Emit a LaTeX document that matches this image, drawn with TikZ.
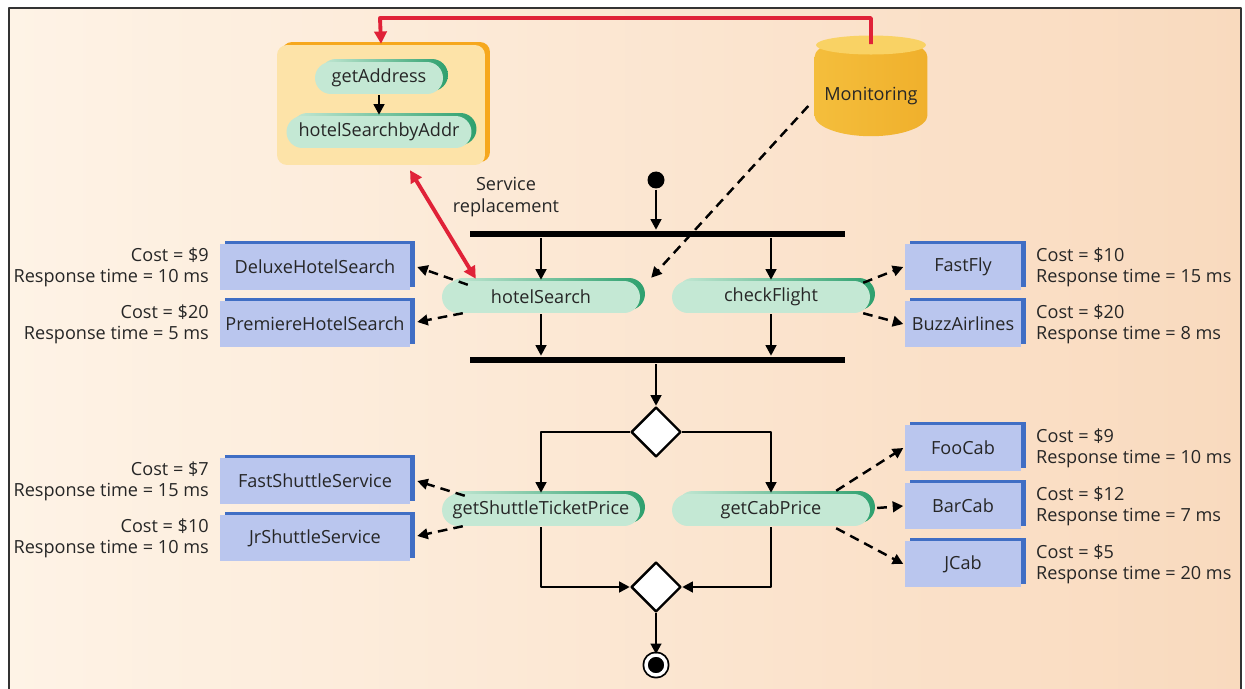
\documentclass[tikz,border=0pt]{standalone}
\usepackage{fontspec}
\setmainfont{Open Sans}
\usetikzlibrary{positioning}
\usetikzlibrary{arrows.meta,calc,shapes.geometric,shadows}
\definecolor{bgL}{RGB}{254,243,230}
\definecolor{bgR}{RGB}{249,218,190}
\definecolor{actfill}{RGB}{196,232,212}
\definecolor{actdark}{RGB}{46,160,110}
\definecolor{svcfill}{RGB}{186,198,238}
\definecolor{svcdark}{RGB}{64,110,196}
\definecolor{grpfill}{RGB}{253,227,168}
\definecolor{grpdark}{RGB}{246,168,30}
\definecolor{monL}{RGB}{244,190,60}
\definecolor{monM}{RGB}{252,226,140}
\definecolor{monR}{RGB}{240,176,44}
\definecolor{montop}{RGB}{249,210,100}
\definecolor{repl}{RGB}{224,34,56}
\tikzstyle{every node}=[font=\fontsize{10.3}{12}\selectfont,text=black!85]
\tikzstyle{every path}=[line width=1.4pt,line join=round]
\tikzstyle{act}=[rectangle,rounded corners=0.32cm,fill=actfill,minimum height=0.64cm,inner sep=0pt,
  general shadow={shadow xshift=0.1cm,shadow yshift=0.06cm,left color=actfill,right color=actdark}]
\tikzstyle{svc}=[rectangle,fill=svcfill,minimum height=0.92cm,inner sep=0pt,
  general shadow={fill=svcdark,shadow xshift=0.1cm,shadow yshift=0.06cm}]
\tikzstyle{bar}=[rectangle,fill=black,minimum width=7.5cm,minimum height=0.12cm,inner sep=0pt]
\tikzstyle{dec}=[diamond,draw,fill=white,minimum width=1cm,minimum height=1cm,inner sep=0pt]
\tikzstyle{flow}=[-{Triangle[length=6pt,width=6pt]}]
\tikzstyle{call}=[flow,dash pattern=on 5.5pt off 3.5pt]
\tikzstyle{swap}=[repl,line width=2.2pt]
\tikzstyle{lbl}=[inner sep=0pt]

\begin{document}
\begin{tikzpicture}[x=0.02cm,y=-0.02cm]
  \useasboundingbox (0,0) rectangle (1245,689);
  \shade[left color=bgL,right color=bgR] (9,8) rectangle (1241,700);
  \draw[black!80,line width=1.2pt] (9,700)--(9,8)--(1241,8)--(1241,700);

  % replacement composition
  \node[rectangle,rounded corners=0.2cm,fill=grpfill,minimum width=4.16cm,minimum height=2.4cm,
    general shadow={fill=grpdark,shadow xshift=0.1cm,shadow yshift=0.06cm}] (grp) at (381,105) {};
  \node[act,minimum width=2.56cm] (ga) at (379,78) {getAddress};
  \node[act,minimum width=3.7cm] (hsa) at (379,132) {hotelSearchbyAddr};
  \draw[flow] (ga) -- (hsa);

  % monitoring
  \node[cylinder,shape border rotate=90,aspect=0.4,minimum width=2.26cm,minimum height=2cm,
    left color=monL,middle color=monM,right color=monR] (mon) at (871,102) {\raisebox{9pt}{Monitoring}};
  \fill[montop] ($(mon.north)+(0,10)$) ellipse [x radius=1.1cm,y radius=0.19cm];
  \coordinate (rt) at (380,18);
  \draw[swap,-{Triangle[length=7pt,width=7pt]}] ($(mon.north)+(0,9)$) |- (rt) -- (grp.north);

  % workflow
  \node[circle,fill=black,minimum size=0.34cm,inner sep=0pt] (start) at (656,180) {};
  \node[bar] (fork) at (657.5,234) {};
  \draw[flow] (start) -- (start |- fork.north);
  \node[act,minimum width=3.96cm] (hs) at (541,297) {hotelSearch};
  \node[act,minimum width=3.96cm] (cf) at (771,297) {checkFlight};
  \draw[flow] (hs |- fork.south) -- (hs);
  \draw[flow] (cf |- fork.south) -- (cf);
  \node[bar] (join) at (657.5,360) {};
  \draw[flow] (hs) -- (hs |- join.north);
  \draw[flow] (cf) -- (cf |- join.north);
  \draw[call] ($(mon.west)+(-5,4)$) -- ($(hs.north east)+(10,-2)$);
  \draw[swap,{Triangle[length=7pt,width=7pt]}-{Triangle[length=7pt,width=7pt]}]
    ($(grp.south)+(29,4)$) -- ($(hs.north west)+(35,-1)$);
  \node[align=center] (srv) at (506,197) {Service\\replacement};

  \node[dec] (br) at (656,432) {};
  \draw[flow] (br |- join.south) -- (br.north);
  \node[act,minimum width=3.96cm] (gs) at (541,510) {getShuttleTicketPrice};
  \node[act,minimum width=3.96cm] (gc) at (771,510) {getCabPrice};
  \draw[flow] (br.west) -| (gs.north);
  \draw[flow] (br.east) -| (gc.north);
  \node[dec] (mg) at (656,587) {};
  \draw[flow] (gs.south) |- (mg.west);
  \draw[flow] (gc.south) |- (mg.east);
  \node[circle,draw=black,fill=black,double=white,double distance=2pt,line width=1pt,
    minimum size=0.4cm,inner sep=0pt] (stop) at (656,665) {};
  \draw[flow] (mg.south) -- (stop.north);

  % candidate services
  \node[svc,minimum width=3.8cm] (dhs) at (315,267) {DeluxeHotelSearch};
  \node[svc,minimum width=3.8cm] (phs) at (315,324) {PremiereHotelSearch};
  \node[svc,minimum width=2.34cm] (ff) at (963,267) {FastFly};
  \node[svc,minimum width=2.34cm] (ba) at (963,324) {BuzzAirlines};
  \node[svc,minimum width=3.8cm] (fss) at (315,481) {FastShuttleService};
  \node[svc,minimum width=3.8cm] (jss) at (315,538) {JrShuttleService};
  \node[svc,minimum width=2.34cm] (fc) at (963,448) {FooCab};
  \node[svc,minimum width=2.34cm] (bc) at (963,506) {BarCab};
  \node[svc,minimum width=2.34cm] (jc) at (963,564) {JCab};

  \draw[call] ($(hs.north west)+(27,5)$) -- ($(dhs.east)+(6,0)$);
  \draw[call] ($(hs.south west)+(22,-1)$) -- ($(phs.east)+(6,-2)$);
  \draw[call] ($(cf.north east)+(-8,3)$) -- (ff.west);
  \draw[call] ($(cf.south east)+(-8,-1)$) -- (ba.west);
  \draw[call] ($(gs.north west)+(24,3)$) -- ($(fss.east)+(6,0)$);
  \draw[call] ($(gs.south west)+(22,-1)$) -- ($(jss.east)+(6,-2)$);
  \draw[call] ($(gc.north east)+(-35,-2)$) -- (fc.west);
  \draw[call] ($(gc.east)+(6,-2)$) -- (bc.west);
  \draw[call] ($(gc.south east)+(-35,1)$) -- (jc.west);

  % QoS figures
  \node[lbl,anchor=east,align=right] (dhsq) at (210,267) {Cost = \$9\\Response time = 10 ms};
  \node[lbl,anchor=east,align=right] (phsq) at (210,324) {Cost = \$20\\Response time = 5 ms};
  \node[lbl,anchor=east,align=right] (fssq) at (210,481) {Cost = \$7\\Response time = 15 ms};
  \node[lbl,anchor=east,align=right] (jssq) at (210,538) {Cost = \$10\\Response time = 10 ms};
  \node[lbl,anchor=west,align=left] (ffq) at (1035,267) {Cost = \$10\\Response time = 15 ms};
  \node[lbl,anchor=west,align=left] (baq) at (1035,324) {Cost = \$20\\Response time = 8 ms};
  \node[lbl,anchor=west,align=left] (fcq) at (1035,448) {Cost = \$9\\Response time = 10 ms};
  \node[lbl,anchor=west,align=left] (bcq) at (1035,506) {Cost = \$12\\Response time = 7 ms};
  \node[lbl,anchor=west,align=left] (jcq) at (1035,564) {Cost = \$5\\Response time = 20 ms};
\end{tikzpicture}
\end{document}
